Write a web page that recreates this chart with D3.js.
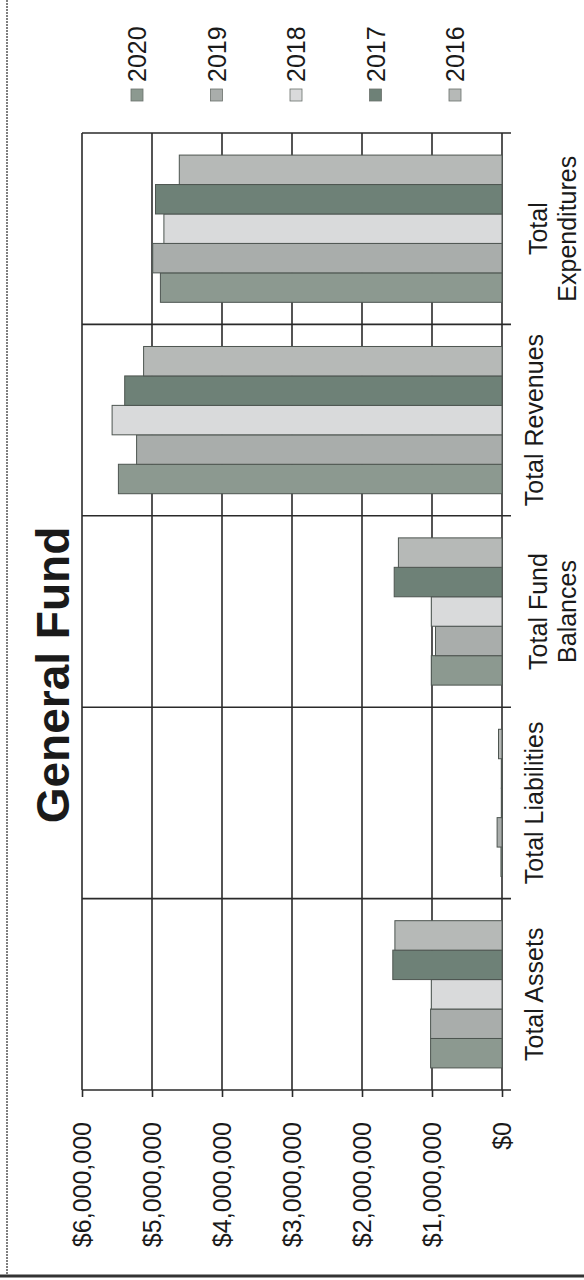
<!DOCTYPE html>
<html>
<head>
<meta charset="utf-8">
<script src="https://cdnjs.cloudflare.com/ajax/libs/d3/7.8.5/d3.min.js"></script>
<style>
  body { margin: 0; background: #fff; }
  svg { display: block; font-family: "Liberation Sans", Arial, sans-serif; }
</style>
</head>
<body>
<script>
// data
var categories = ["Total Assets", "Total Liabilities", "Total Fund Balances", "Total Revenues", "Total Expenditures"];
var categoryLabels = [["Total Assets"], ["Total Liabilities"], ["Total Fund", "Balances"], ["Total Revenues"], ["Total", "Expenditures"]];
var years = ["2020", "2019", "2018", "2017", "2016"];
var values2020 = [1020000, 15000, 1010000, 5480000, 4880000];
var values2019 = [1020000, 70000, 950000, 5220000, 4990000];
var values2018 = [1010000, 10000, 1010000, 5570000, 4830000];
var values2017 = [1560000, 10000, 1540000, 5390000, 4950000];
var values2016 = [1530000, 50000, 1480000, 5120000, 4610000];
var yTicks = [0, 1000000, 2000000, 3000000, 4000000, 5000000, 6000000];

var seriesValues = [values2020, values2019, values2018, values2017, values2016];
var colors = ["#8c9990", "#a9adab", "#d9dadb", "#6e8177", "#b6b9b7"];

// page is portrait, chart is drawn landscape then turned a quarter
var pageW = 584, pageH = 1280;
var W = pageH, H = pageW;
var plot = { left: 190, right: 1147, top: 82, bottom: 502 };

var svg = d3.select("body").append("svg")
    .attr("width", pageW)
    .attr("height", pageH);

var g = svg.append("g")
    .attr("transform", "translate(0," + pageH + ") rotate(-90)");

var x0 = d3.scaleBand()
  .domain(categories)
  .range([plot.left, plot.right]);
var x1 = d3.scaleBand()
  .domain(years)
  .range([0, x0.bandwidth()])
  .paddingOuter(0.75);
var y = d3.scaleLinear()
  .domain([0, 6000000])
  .range([plot.bottom, plot.top]);

// horizontal gridlines
g.selectAll("line.hgrid")
  .data(yTicks)
  .enter()
  .append("line")
  .attr("class", "hgrid")
  .attr("x1", plot.left)
  .attr("x2", plot.right)
  .attr("y1", function(d) { return y(d); })
  .attr("y2", function(d) { return y(d); })
  .style("stroke", "#2a2a2a")
  .style("stroke-width", 1.6);

// category dividers, run past $0 as tick marks
var dividers = categories.map(function(c) { return x0(c); }).concat([plot.right]);
g.selectAll("line.vgrid")
  .data(dividers)
  .enter()
  .append("line")
  .attr("class", "vgrid")
  .attr("x1", function(d) { return d; })
  .attr("x2", function(d) { return d; })
  .attr("y1", y(6000000))
  .attr("y2", plot.bottom + 9)
  .style("stroke", "#2a2a2a")
  .style("stroke-width", 1.6);

// bars
var groups = g.selectAll("g.series")
  .data(years)
  .enter()
  .append("g")
  .attr("class", "series");

groups.selectAll("rect")
  .data(function(yr, i) {
    return categories.map(function(c, j) { return { cat: c, year: yr, value: seriesValues[i][j], color: colors[i] }; });
  })
  .enter()
  .append("rect")
  .attr("x", function(d) { return x0(d.cat) + x1(d.year); })
  .attr("y", function(d) { return y(d.value); })
  .attr("width", x1.bandwidth())
  .attr("height", function(d) { return y(0) - y(d.value); })
  .style("fill", function(d) { return d.color; })
  .style("stroke", "#4d5550")
  .style("stroke-width", 1);

// value axis
var yAxis = d3.axisLeft(y)
  .tickValues(yTicks)
  .tickFormat(d3.format("$,"))
  .tickSize(7)
  .tickPadding(25);

var yAxisG = g.append("g")
  .attr("transform", "translate(" + plot.left + ",0)")
  .call(yAxis);
yAxisG.select(".domain").remove();
yAxisG.selectAll("line").style("stroke", "#2a2a2a").style("stroke-width", 1.6);
yAxisG.selectAll("text")
  .style("font-size", "25px")
  .style("font-family", "'Liberation Sans', Arial, sans-serif")
  .style("fill", "#1a1a1a");

// category labels
var catText = g.selectAll("text.cat")
  .data(categories)
  .enter()
  .append("text")
  .attr("class", "cat")
  .attr("text-anchor", "middle")
  .style("font-size", "25px")
  .style("fill", "#1a1a1a");

catText.each(function(c, i) {
  var lines = categoryLabels[i];
  var base = lines.length > 1 ? 547 : 543;
  var t = d3.select(this);
  lines.forEach(function(s, k) {
    t.append("tspan")
      .attr("x", x0(c) + x0.bandwidth() / 2)
      .attr("y", base + k * 29)
      .text(s);
  });
});

// title
g.append("text")
  .attr("x", 605)
  .attr("y", 69)
  .attr("text-anchor", "middle")
  .style("font-size", "46px")
  .style("font-weight", "bold")
  .style("fill", "#1a1a1a")
  .text("General Fund");

// legend
var legendY = d3.scalePoint().domain(years).range([137, 455]);
var legend = g.selectAll("g.legend")
  .data(years)
  .enter()
  .append("g")
  .attr("class", "legend")
  .attr("transform", function(d) { return "translate(1179," + legendY(d) + ")"; });

legend.append("rect")
  .attr("x", 0)
  .attr("y", -6)
  .attr("width", 12)
  .attr("height", 12)
  .style("fill", function(d, i) { return colors[i]; })
  .style("stroke", "#6a706c")
  .style("stroke-width", 0.8);

legend.append("text")
  .attr("x", 19)
  .attr("y", 9)
  .style("font-size", "25px")
  .style("fill", "#1a1a1a")
  .text(function(d) { return d; });

// frame of the scanned page
svg.append("line")
  .attr("x1", 7).attr("x2", 7)
  .attr("y1", 0).attr("y2", 1276)
  .style("stroke", "#555")
  .style("stroke-width", 1.5)
  .style("stroke-dasharray", "2,1");
svg.append("line")
  .attr("x1", 0).attr("x2", pageW)
  .attr("y1", 1276).attr("y2", 1276)
  .style("stroke", "#333")
  .style("stroke-width", 3);
</script>
</body>
</html>
